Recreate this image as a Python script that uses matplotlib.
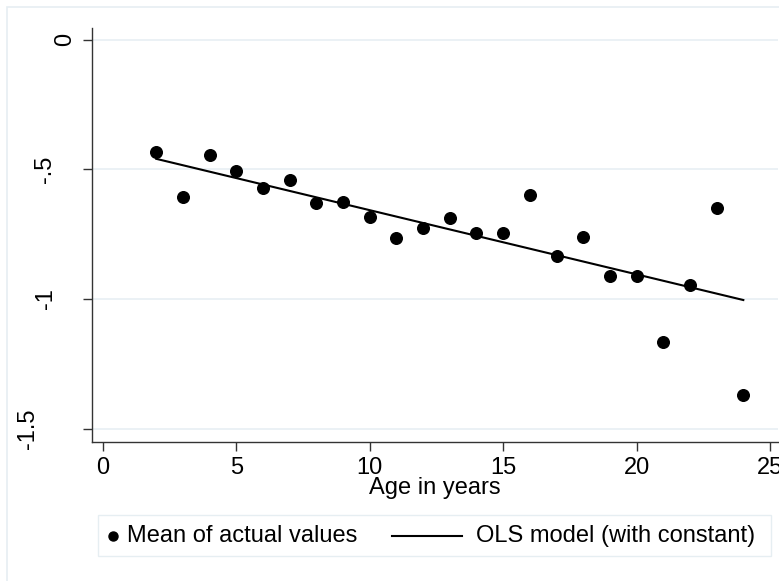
import numpy as np
import matplotlib.pyplot as plt
from matplotlib.patches import Rectangle
from matplotlib.lines import Line2D
from matplotlib.transforms import blended_transform_factory

plt.rcParams['font.family'] = ['Liberation Sans', 'DejaVu Sans']

# mean of the outcome by age
age = [2, 3, 4, 5, 6, 7, 8, 9, 10, 11, 12, 13, 14, 15, 16, 17, 18, 19, 20, 21, 22, 23, 24]
mean_actual = [-0.432, -0.606, -0.444, -0.506, -0.571, -0.541, -0.629, -0.625, -0.683,
               -0.764, -0.726, -0.687, -0.745, -0.745, -0.598, -0.834, -0.760, -0.911,
               -0.911, -1.166, -0.946, -0.649, -1.371]

# OLS fit (with constant)
ols_intercept = -0.4095
ols_slope = -0.02477

xticks = [0, 5, 10, 15, 20, 25]
yticks = [0, -0.5, -1, -1.5]
ytick_labels = ['0', '-.5', '-1', '-1.5']
# horizontal centre (px) of each rotated y label
ylabel_xpix = [65, 45, 46, 28]

W, H = 779, 581
FS = 17
fig = plt.figure(figsize=(W / 100, H / 100), dpi=100)
fig.patch.set_facecolor('white')


def fx(px):
    return px / W


def fy(py):
    return (H - py) / H


# faint outer graph-region frame
fig.add_artist(Rectangle((fx(7), -0.1), 1.2, fy(7) + 0.1, transform=fig.transFigure,
                         fill=False, edgecolor='#e6eef2', linewidth=1.2))

ax = fig.add_axes([fx(92), fy(442), fx(778 - 92), (442 - 28) / H])
ax.set_facecolor('white')

x = np.array(age)
fit = ols_intercept + ols_slope * x
ax.scatter(x, mean_actual, s=70, color='black', zorder=3)
ax.plot([x[0], x[-1]], [fit[0], fit[-1]], color='black', linewidth=1.5, zorder=2)

ax.set_xlim(-0.41, 25.3)
ax.set_ylim(-1.552, 0.046)
ax.set_xticks(xticks)
ax.set_yticks(yticks)
ax.set_yticklabels([])
ax.tick_params(axis='both', direction='out', length=6.5, width=1, color='#333333',
               labelsize=FS, pad=4)
ax.grid(axis='y', color='#e8eff3', linewidth=1.2)
ax.set_axisbelow(True)

# rotated y labels
ytrans = blended_transform_factory(fig.transFigure, ax.transData)
for val, lab, px in zip(yticks, ytick_labels, ylabel_xpix):
    fig.text(fx(px), val, lab, transform=ytrans, rotation=90, ha='center', va='center',
             fontsize=FS)

for side in ['top', 'right']:
    ax.spines[side].set_visible(False)
for side in ['left', 'bottom']:
    ax.spines[side].set_color('#333333')
    ax.spines[side].set_linewidth(1.0)

ax.set_xlabel('Age in years', fontsize=FS, labelpad=-1)

# legend below the plot
leg_y = 536
fig.add_artist(Rectangle((fx(98), fy(556)), fx(771 - 98), (556 - 515) / H,
                         transform=fig.transFigure, fill=False,
                         edgecolor='#e6eef2', linewidth=1.0))
fig.add_artist(Line2D([fx(113)], [fy(leg_y)], transform=fig.transFigure, marker='o',
                      markersize=6.5, color='black', linestyle='none'))
fig.text(fx(127), fy(leg_y), 'Mean of actual values', ha='left', va='center', fontsize=FS)
fig.add_artist(Line2D([fx(392), fx(462)], [fy(leg_y), fy(leg_y)], transform=fig.transFigure,
                      color='black', linewidth=1.5))
fig.text(fx(476), fy(leg_y), 'OLS model (with constant)', ha='left', va='center', fontsize=FS)

fig.savefig('out.png', dpi=100)
